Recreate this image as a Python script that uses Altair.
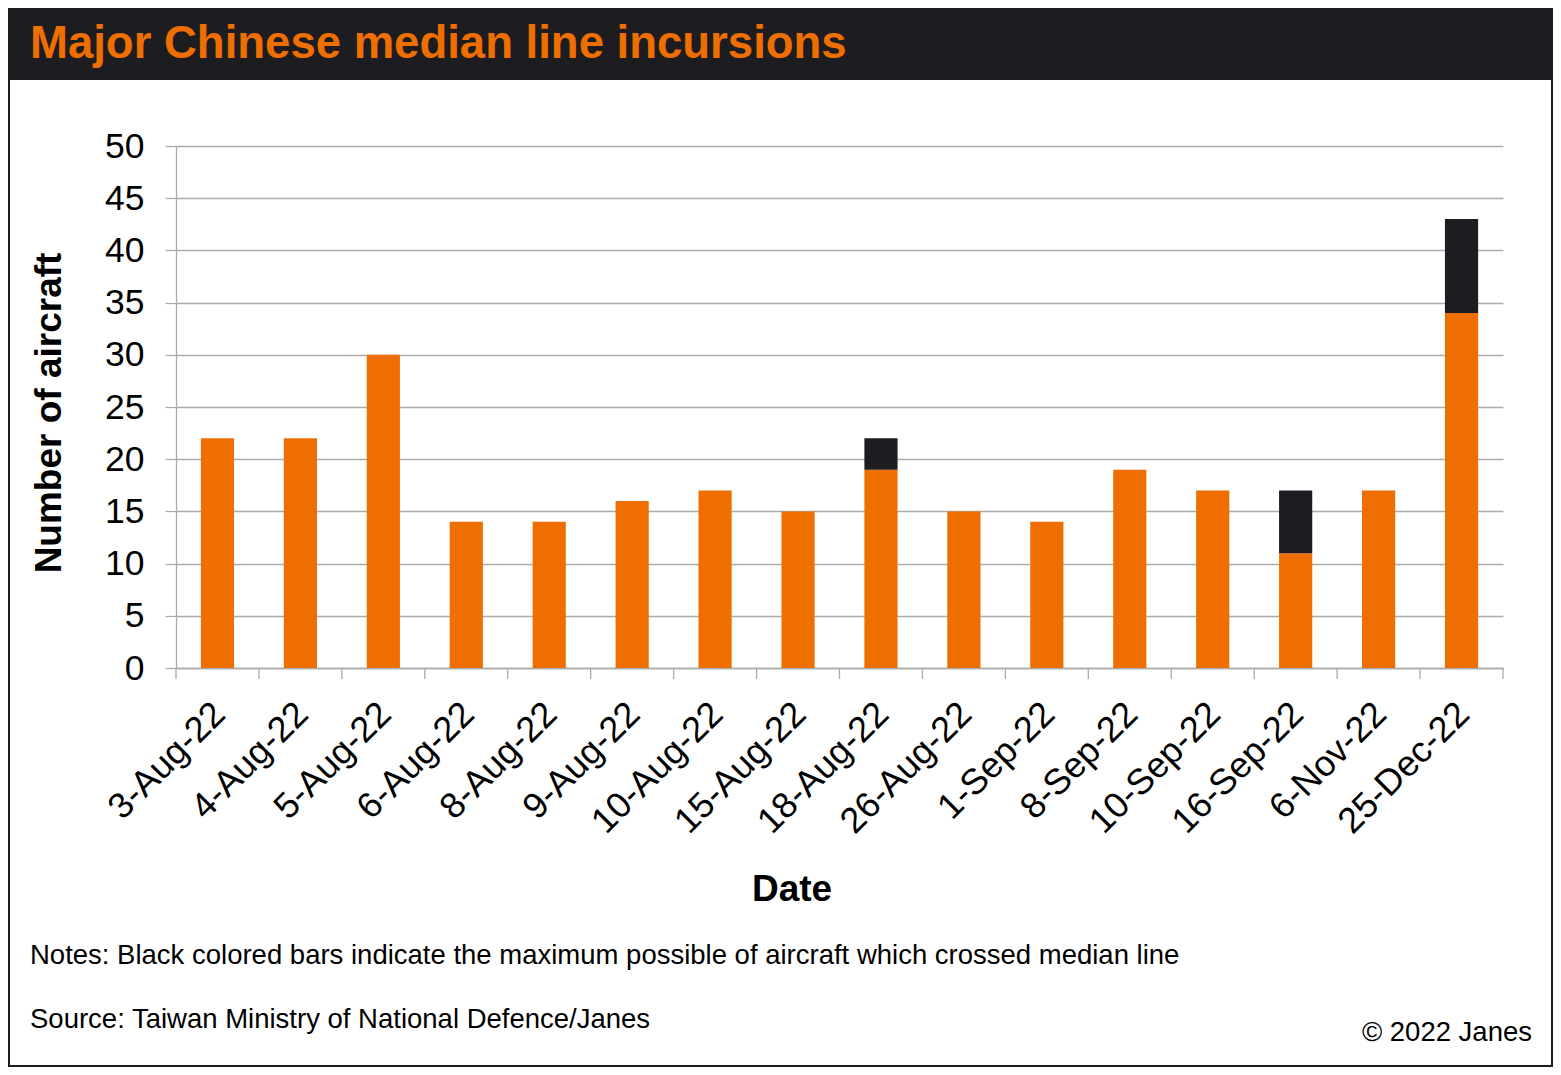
import altair as alt
import pandas as pd

# ---- data ----
dates = ["3-Aug-22", "4-Aug-22", "5-Aug-22", "6-Aug-22", "8-Aug-22", "9-Aug-22",
         "10-Aug-22", "15-Aug-22", "18-Aug-22", "26-Aug-22", "1-Sep-22", "8-Sep-22",
         "10-Sep-22", "16-Sep-22", "6-Nov-22", "25-Dec-22"]
confirmed = [22, 22, 30, 14, 14, 16, 17, 15, 19, 15, 14, 19, 17, 11, 17, 34]
possible_extra = [0, 0, 0, 0, 0, 0, 0, 0, 3, 0, 0, 0, 0, 6, 0, 9]
y_ticks = [0, 5, 10, 15, 20, 25, 30, 35, 40, 45, 50]

title_text = "Major Chinese median line incursions"
y_title = "Number of aircraft"
x_title = "Date"
notes_text = "Notes: Black colored bars indicate the maximum possible of aircraft which crossed median line"
source_text = "Source: Taiwan Ministry of National Defence/Janes"
copyright_text = "\u00a9 2022 Janes"

ORANGE = "#EE6F00"
DARK = "#1D1D21"
GRID = "#ABABAB"
FONT = "Liberation Sans"

W, H = 1327, 522
PAD_L, PAD_T = 168, 138
TOTAL_W, TOTAL_H = 1545, 1059

df = pd.DataFrame({"date": dates, "confirmed": confirmed, "extra": possible_extra})
df["top"] = df["confirmed"] + df["extra"]

xenc = alt.X("date:N", sort=dates,
             scale=alt.Scale(paddingInner=0, paddingOuter=0),
             axis=alt.Axis(title=None, labelAngle=-45, labelAlign="right", labelBaseline="top",
                           labelFontSize=36, labelFont=FONT, labelColor="#000000",
                           labelPadding=28, labelOffset=-10, ticks=False,
                           domainColor=GRID, domainWidth=1.3, grid=False, labelOverlap=False))
yenc = alt.Y("confirmed:Q",
             scale=alt.Scale(domain=[0, 50], nice=False),
             axis=alt.Axis(title=None, values=y_ticks, labelFontSize=35.5, labelFont=FONT,
                           labelColor="#000000", tickSize=11, tickColor=GRID, tickWidth=1.3,
                           labelPadding=21, domainColor=GRID, domainWidth=1.3,
                           gridColor=GRID, gridWidth=1.3))

base = alt.Chart(df)

orange_bars = base.mark_bar(color=ORANGE, width=alt.RelativeBandSize(0.4)).encode(
    x=xenc, y=yenc)

black_bars = base.transform_filter("datum.extra > 0").mark_bar(
    color=DARK, width=alt.RelativeBandSize(0.4)).encode(
    x=alt.X("date:N", sort=dates), y=alt.Y("top:Q"), y2="confirmed:Q")

x_ticks = base.mark_rule(color=GRID, strokeWidth=1.3).encode(
    x=alt.X("date:N", sort=dates, bandPosition=0),
    y=alt.value(H), y2=alt.value(H + 11))

one = alt.Data(values=[{"k": 1}])

last_tick = alt.Chart(one).mark_rule(color=GRID, strokeWidth=1.3).encode(
    x=alt.value(W), y=alt.value(H), y2=alt.value(H + 11))

title_bar = alt.Chart(one).mark_rect(color=DARK).encode(
    x=alt.value(-PAD_L), x2=alt.value(TOTAL_W - PAD_L),
    y=alt.value(-PAD_T), y2=alt.value(-66))

border = alt.Chart(one).mark_rect(fill=None, stroke=DARK, strokeWidth=4).encode(
    x=alt.value(-PAD_L), x2=alt.value(TOTAL_W - PAD_L),
    y=alt.value(-PAD_T), y2=alt.value(TOTAL_H - PAD_T))

def txt(s, x, y, size, bold=False, align="left", baseline="alphabetic", color="#000000", angle=0):
    kw = dict(text=s, fontSize=size, font=FONT, fontWeight="bold" if bold else "normal",
              align=align, baseline=baseline, color=color)
    if angle:
        kw["angle"] = angle
    return alt.Chart(one).mark_text(**kw).encode(x=alt.value(x), y=alt.value(y))

title_mark = txt(title_text, -146, -88, 45.5, bold=True, color=ORANGE)
ytitle_mark = txt(y_title, -126, 267, 37, bold=True, align="center", baseline="middle", angle=270)
xtitle_mark = txt(x_title, 616, 744, 37, bold=True, align="center", baseline="middle")
notes_mark = txt(notes_text, -146, 818, 27.5)
source_mark = txt(source_text, -146, 882, 27.5)
copy_mark = txt(copyright_text, 1356, 895, 27.5, align="right")

chart = alt.layer(
    title_bar, border, orange_bars, black_bars, x_ticks, last_tick,
    title_mark, ytitle_mark, xtitle_mark, notes_mark, source_mark, copy_mark
).properties(
    width=W, height=H,
    autosize=alt.AutoSizeParams(type="none"),
    padding={"left": PAD_L, "top": PAD_T, "right": TOTAL_W - PAD_L - W, "bottom": TOTAL_H - PAD_T - H},
    background="#FFFFFF",
).configure_view(stroke=None)

chart.save("out.html", embed_options={"renderer": "svg", "actions": False})
